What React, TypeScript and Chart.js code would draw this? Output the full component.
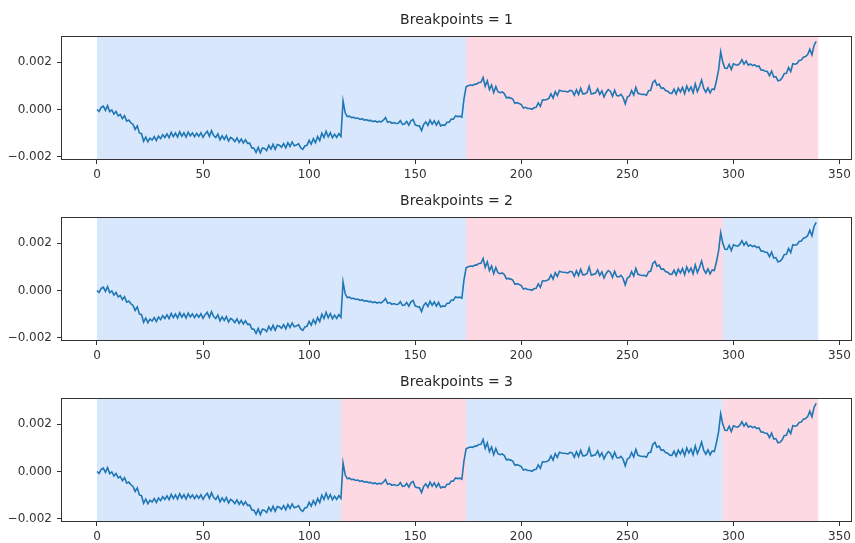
import React, { useEffect, useRef } from "react";
import { Chart, registerables } from "chart.js";

Chart.register(...registerables);

// Signal values in units of 1e-4 (one per sample, x = 0..339)
const signalE4: number[] = [
  0, -0.8, 0.9, 1.4, -0.4, 1.6, -0.9, -0.2, -1.9, -0.8, -2.7, -2.1, -3.9, -2.6, -4.9, -4.4, -5.6, -6.3, -8.4, -6.9,
  -9.9, -10.2, -13.4, -11.6, -13.6, -12.1, -12.9, -11.4, -13.1, -11.2, -12.3, -10.6, -11.8, -10.3, -11.9, -9.7, -11.4, -9.9, -11.6, -9.4,
  -11.2, -9.8, -11.6, -9.5, -11.1, -9.9, -11.5, -10.0, -11.3, -9.8, -11.7, -10.2, -9.2, -11.3, -8.9, -11.0, -11.8, -10.3, -12.8, -11.1,
  -12.6, -11.0, -13.3, -11.8, -12.4, -13.5, -12.0, -13.9, -12.5, -14.1, -12.8, -14.3, -14.2, -16.2, -16.3, -18.1, -16.0, -18.3, -16.2, -16.4,
  -17.3, -15.1, -16.7, -14.7, -16.8, -14.8, -15.1, -15.9, -14.4, -16.2, -14.0, -15.6, -13.7, -15.3, -15.0, -14.4, -16.1, -16.8, -15.4, -15.1,
  -13.0, -14.6, -12.3, -14.0, -11.4, -13.1, -10.0, -11.8, -9.2, -11.5, -9.8, -11.9, -10.4, -11.8, -10.2, -11.3, 3.6, -1.4, -3.0, -2.8,
  -3.4, -3.3, -3.8, -3.6, -4.2, -3.9, -4.5, -4.3, -4.7, -4.6, -5.1, -4.8, -5.3, -5.0, -5.2, -4.5, -3.4, -5.4, -5.1, -5.8,
  -5.5, -5.9, -5.8, -4.7, -6.3, -6.1, -5.0, -6.6, -4.8, -4.2, -6.5, -6.8, -6.9, -8.9, -6.3, -5.2, -6.7, -4.5, -6.2, -4.8,
  -6.6, -5.0, -6.9, -6.5, -6.7, -5.4, -5.4, -4.0, -4.1, -2.7, -3.0, -2.8, -3.3, 4.5, 9.6, 10.0, 10.3, 10.2, 10.6, 10.8,
  11.4, 11.5, 13.5, 9.8, 12.1, 8.4, 10.3, 7.1, 9.7, 7.5, 7.1, 7.4, 6.7, 4.9, 5.1, 4.8, 4.4, 2.6, 2.9, 2.5,
  2.1, 0.6, 0.9, 0.4, 0.4, 0.1, 0.7, 0.9, 2.8, 1.3, 4.1, 4.0, 4.2, 4.7, 6.6, 4.8, 7.5, 5.9, 8.1, 7.8,
  7.7, 7.6, 7.4, 8.1, 7.8, 6.0, 8.3, 6.3, 8.9, 6.6, 6.7, 7.2, 9.9, 6.5, 6.8, 7.0, 8.7, 6.4, 7.9, 5.3,
  7.2, 8.4, 7.7, 5.6, 8.1, 5.9, 5.7, 6.4, 5.1, 2.4, 5.3, 5.8, 8.0, 6.1, 9.3, 6.8, 6.5, 6.3, 6.4, 6.0,
  7.9, 8.1, 11.4, 12.3, 10.2, 10.7, 8.9, 9.1, 8.0, 7.7, 6.9, 6.8, 8.6, 6.5, 9.0, 7.4, 9.3, 6.7, 9.9, 7.8,
  9.5, 7.1, 10.8, 7.6, 9.7, 12.4, 8.9, 7.3, 9.1, 7.0, 8.7, 8.4, 12.1, 16.7, 24.3, 19.9, 17.4, 17.3, 19.1, 16.9,
  19.3, 18.9, 18.7, 19.4, 21.0, 19.1, 20.4, 18.7, 19.2, 18.5, 18.9, 18.1, 18.4, 16.7, 16.6, 16.1, 16.0, 14.3, 16.2, 13.7,
  13.9, 12.1, 12.3, 13.4, 15.2, 15.3, 17.7, 16.0, 19.3, 19.1, 19.4, 20.7, 20.9, 22.1, 22.3, 23.2, 25.4, 23.1, 27.0, 28.7,
];

// Breakpoints (segment ends) for each panel
const bkps1 = [174, 340];
const bkps2 = [174, 295, 340];
const bkps3 = [115, 174, 295, 340];

const titles = ["Breakpoints = 1", "Breakpoints = 2", "Breakpoints = 3"];
const xTicks = [0, 50, 100, 150, 200, 250, 300, 350];
const yTicks = [-0.002, 0, 0.002];

const X_MIN = -16.95;
const X_MAX = 355.95;
const Y_MIN = -0.00213;
const Y_MAX = 0.0031;

const SPAN_COLORS = ["rgba(66,134,244,0.2)", "rgba(244,65,116,0.2)"];
const AXIS_COLOR = "#333333";
const FONT = "'DejaVu Sans', sans-serif";

const spansPlugin = {
  id: "spans",
  beforeDatasetsDraw(chart: any, _args: any, opts: any) {
    const { ctx, chartArea, scales } = chart;
    const bounds = [0, ...(opts.bkps || [])];
    ctx.save();
    for (let i = 0; i < bounds.length - 1; i++) {
      const x0 = scales.x.getPixelForValue(bounds[i]);
      const x1 = scales.x.getPixelForValue(bounds[i + 1]);
      ctx.fillStyle = SPAN_COLORS[i % 2];
      ctx.fillRect(x0, chartArea.top, x1 - x0, chartArea.bottom - chartArea.top);
    }
    ctx.restore();
  },
};

const framePlugin = {
  id: "frame",
  afterDraw(chart: any) {
    const { ctx, chartArea } = chart;
    ctx.save();
    ctx.strokeStyle = AXIS_COLOR;
    ctx.lineWidth = 1;
    ctx.strokeRect(
      Math.round(chartArea.left) + 0.5,
      Math.round(chartArea.top) + 0.5,
      Math.round(chartArea.right - chartArea.left) - 1,
      Math.round(chartArea.bottom - chartArea.top) - 1
    );
    ctx.restore();
  },
};

function fmtY(v: number) {
  const s = Math.abs(v).toFixed(3);
  return v < -1e-12 ? "\u2212" + s : s;
}

function makeChart(canvas: HTMLCanvasElement, title: string, bkps: number[]) {
  const points = signalE4.map((v, i) => ({ x: i, y: v / 10000 }));
  return new Chart(canvas, {
    type: "line",
    data: {
      datasets: [
        {
          data: points,
          borderColor: "#1f77b4",
          borderWidth: 1.6,
          pointRadius: 0,
          tension: 0,
          fill: false,
        },
      ],
    },
    options: {
      animation: false,
      responsive: false,
      devicePixelRatio: 1,
      parsing: false as any,
      events: [],
      layout: { padding: { top: 0, left: 0, right: 1.5, bottom: 0 } },
      plugins: {
        legend: { display: false },
        tooltip: { enabled: false },
        title: {
          display: true,
          text: title,
          fullSize: false,
          color: "#262626",
          font: { family: FONT, size: 14, weight: "normal", lineHeight: 1.2 },
          padding: { top: 12, bottom: 7.2 },
        },
        spans: { bkps },
      } as any,
      scales: {
        x: {
          type: "linear",
          min: X_MIN,
          max: X_MAX,
          afterBuildTicks: (scale: any) => {
            scale.ticks = xTicks.map((v) => ({ value: v }));
          },
          afterFit: (scale: any) => {
            scale.height = 22;
          },
          border: { display: false },
          grid: {
            display: true,
            drawOnChartArea: false,
            drawTicks: true,
            tickLength: 4,
            color: AXIS_COLOR,
            lineWidth: 1,
          },
          ticks: {
            autoSkip: false,
            maxRotation: 0,
            padding: 4,
            color: "#333333",
            font: { family: FONT, size: 12 },
            callback: (v: any) => String(v),
          },
        },
        y: {
          type: "linear",
          min: Y_MIN,
          max: Y_MAX,
          afterBuildTicks: (scale: any) => {
            scale.ticks = yTicks.map((v) => ({ value: v }));
          },
          afterFit: (scale: any) => {
            scale.width = 61;
          },
          border: { display: false },
          grid: {
            display: true,
            drawOnChartArea: false,
            drawTicks: true,
            tickLength: 4,
            color: AXIS_COLOR,
            lineWidth: 1,
          },
          ticks: {
            autoSkip: false,
            padding: 5,
            color: "#333333",
            font: { family: FONT, size: 12 },
            callback: (v: any) => fmtY(Number(v)),
          },
        },
      },
    },
    plugins: [spansPlugin, framePlugin],
  });
}

export default function App() {
  const r1 = useRef<HTMLCanvasElement>(null);
  const r2 = useRef<HTMLCanvasElement>(null);
  const r3 = useRef<HTMLCanvasElement>(null);

  useEffect(() => {
    const charts = [
      makeChart(r1.current!, titles[0], bkps1),
      makeChart(r2.current!, titles[1], bkps2),
      makeChart(r3.current!, titles[2], bkps3),
    ];
    return () => charts.forEach((c) => c.destroy());
  }, []);

  const canvasStyle = (top: number): React.CSSProperties => ({
    position: "absolute",
    left: 0,
    top,
    width: 855,
    height: 182,
    display: "block",
  });

  return (
    <div
      style={{
        position: "fixed",
        left: 0,
        top: 0,
        width: 855,
        height: 543,
        overflow: "hidden",
        background: "#ffffff",
      }}
    >
      <canvas ref={r1} width={855} height={182} style={canvasStyle(0)} />
      <canvas ref={r2} width={855} height={182} style={canvasStyle(181)} />
      <canvas ref={r3} width={855} height={182} style={canvasStyle(362)} />
    </div>
  );
}
